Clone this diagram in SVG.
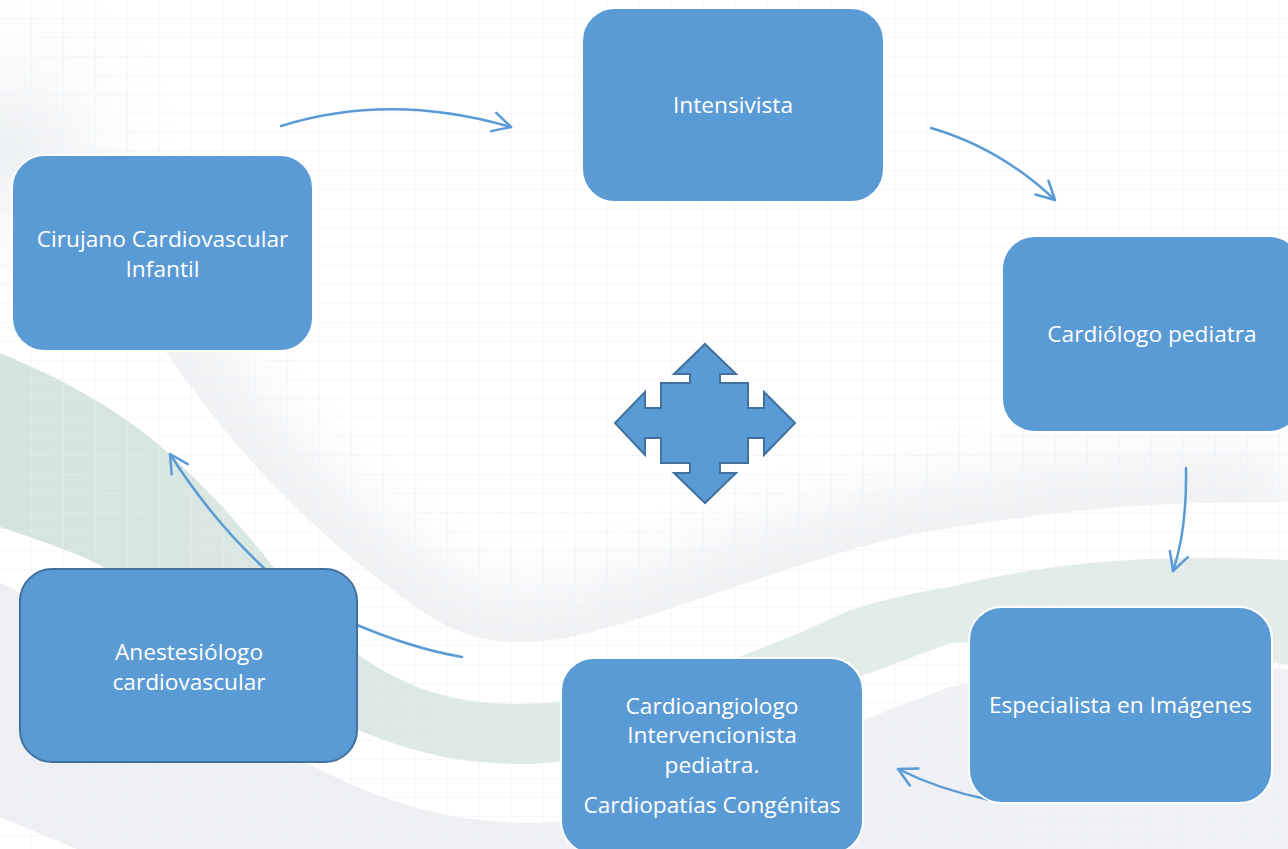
<svg xmlns="http://www.w3.org/2000/svg" width="1288" height="849" viewBox="0 0 1288 849">
  <defs>
    <style>
      .node rect { fill: #5B9BD5; stroke: #FFFFFF; stroke-width: 2; }
      .node text { font-family: "Open Sans", "Noto Sans", sans-serif; font-size: 22.7px; fill: #FFFFFF; text-anchor: middle; }
      .conn { fill: none; stroke: #5B9BD5; stroke-width: 2.5; stroke-linecap: round; }
    </style>
    <marker id="arr" markerUnits="userSpaceOnUse" markerWidth="30" markerHeight="30" viewBox="-24 -15 28 30" refX="0" refY="0" orient="auto">
      <path d="M-18,-9.5 L0,0 L-18,9.5" fill="none" stroke="#5B9BD5" stroke-width="2.5" stroke-linecap="round" stroke-linejoin="round"/>
    </marker>
    <pattern id="grid" width="32" height="19" patternUnits="userSpaceOnUse">
      <path d="M32,0 L32,19 M0,19 L32,19" fill="none" stroke="#E4EFFA" stroke-width="1"/>
    </pattern>
    <linearGradient id="g1" x1="0" y1="0" x2="1" y2="0">
      <stop offset="0" stop-color="#D5E4DE"/>
      <stop offset="0.5" stop-color="#E1EBE8"/>
      <stop offset="1" stop-color="#E3ECE9"/>
    </linearGradient>
    <linearGradient id="g2" x1="0" y1="0" x2="1" y2="0">
      <stop offset="0" stop-color="#EDEFF2"/>
      <stop offset="1" stop-color="#EFF1F4"/>
    </linearGradient>
    <radialGradient id="tl" cx="0" cy="150" r="200" gradientUnits="userSpaceOnUse">
      <stop offset="0" stop-color="#ECEFF1"/>
      <stop offset="1" stop-color="#FFFFFF" stop-opacity="0"/>
    </radialGradient>
    <clipPath id="g0clip">
      <path d="M0,0 L1288,0 L1288,503 C1150,500 1050,512 950,528 C860,540 760,580 650,615 C600,630 560,644 510,642 C460,640 430,618 390,588 C300,520 230,445 166,352 C130,300 60,220 0,150 Z"/>
    </clipPath>
    <filter id="soft" x="-20%" y="-50%" width="140%" height="200%">
      <feGaussianBlur stdDeviation="30"/>
    </filter>
  </defs>

  <!-- background -->
  <rect x="0" y="0" width="1288" height="849" fill="#FFFFFF"/>
  <g clip-path="url(#g0clip)">
    <path d="M0,150 C60,220 130,300 166,352 C230,445 300,520 390,588 C430,618 460,640 510,642 C560,644 600,630 650,615 C760,580 860,540 950,528 C1050,512 1150,500 1288,503" fill="none" stroke="#EFF1F3" stroke-width="100" filter="url(#soft)"/>
  </g>
  <rect x="0" y="0" width="300" height="360" fill="url(#tl)"/>
  <path d="M0,353 C60,378 110,405 153,440 C200,480 240,525 268,560 C320,630 380,690 480,702 C580,712 700,680 850,610 C900,595 930,590 950,587 C1030,568 1117,552 1288,560 L1288,665 C1180,645 1050,638 950,643 C800,700 620,765 520,764 C460,763 420,755 358,730 C280,700 200,620 96,563 C80,555 40,540 0,527 Z" fill="url(#g1)"/>
  <path d="M0,583 C10,587 15,590 19,593 C120,680 220,740 306,763 C380,800 440,822 530,823 C650,822 800,740 950,687 C1050,660 1180,665 1288,669 L1288,849 L0,849 Z" fill="url(#g2)"/>
  <path d="M0,817 L77,849 L0,849 Z" fill="#FFFFFF"/>
  <rect x="0" y="0" width="1288" height="849" fill="url(#grid)" opacity="0.8"/>

  <!-- central four-way arrow -->
  <g id="center-arrow">
    <polygon points="705,344 736,374 720,374 720,383 748,383 748,408 764,408 764,392 795,423 764,455 764,438 748,438 748,463 720,463 720,473 736,473 705,503 674,473 690,473 690,463 661,463 661,438 645,438 645,455 615,423 645,392 645,408 661,408 661,383 690,383 690,374 674,374" fill="#5B9BD5" stroke="#41719C" stroke-width="2" stroke-linejoin="miter"/>
  </g>

  <!-- connectors -->
  <g id="connectors">
    <path class="conn" d="M281,126 Q390,92 511,127" marker-end="url(#arr)"/>
    <path class="conn" d="M931,128 Q1000,148 1055,200" marker-end="url(#arr)"/>
    <path class="conn" d="M1186,468 Q1187,530 1173,571" marker-end="url(#arr)"/>
    <path class="conn" d="M990,800 Q940,790 898,769" marker-end="url(#arr)"/>
    <path class="conn" d="M462,657 Q410,648 350,622"/>
    <path class="conn" d="M265,569 Q212,520 170,454" marker-end="url(#arr)"/>
  </g>

  <!-- nodes -->
  <g id="intensivista" class="node">
    <rect x="582" y="8" width="302" height="194" rx="33" ry="33"/>
    <text x="733" y="113">Intensivista</text>
  </g>
  <g id="cardiologo" class="node">
    <rect x="1002" y="236" width="300" height="196" rx="33" ry="33"/>
    <text x="1152" y="342">Cardiólogo pediatra</text>
  </g>
  <g id="especialista" class="node">
    <rect x="969" y="607" width="303" height="196" rx="33" ry="33"/>
    <text x="1120.5" y="713">Especialista en Imágenes</text>
  </g>
  <g id="cardioangiologo" class="node">
    <rect x="561" y="658" width="302" height="196" rx="33" ry="33"/>
    <text x="712" y="714">Cardioangiologo</text>
    <text x="712" y="743">Intervencionista</text>
    <text x="712" y="773">pediatra.</text>
    <text x="712" y="813">Cardiopatías Congénitas</text>
  </g>
  <g id="anestesiologo" class="node">
    <rect x="20" y="569" width="337" height="193" rx="32" ry="32" style="stroke:#41719C"/>
    <text x="189" y="660">Anestesiólogo</text>
    <text x="189" y="690">cardiovascular</text>
  </g>
  <g id="cirujano" class="node">
    <rect x="12" y="155" width="301" height="196" rx="33" ry="33"/>
    <text x="162.5" y="247">Cirujano Cardiovascular</text>
    <text x="162.5" y="277">Infantil</text>
  </g>
</svg>
